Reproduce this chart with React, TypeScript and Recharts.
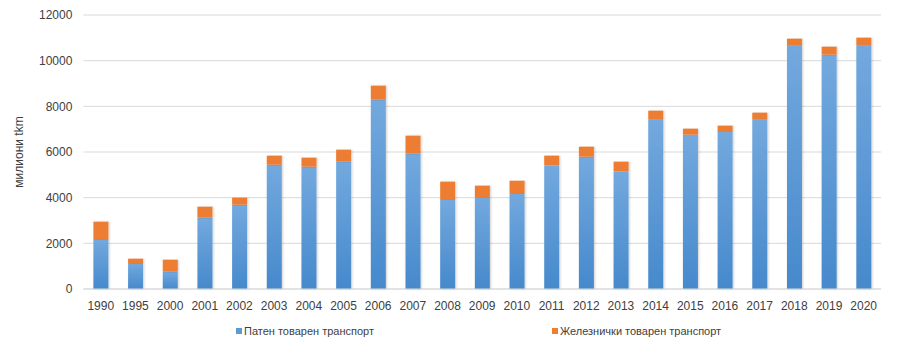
import React from 'react';
import { BarChart, Bar, XAxis, YAxis, CartesianGrid, Legend, Label } from 'recharts';

const years = ['1990','1995','2000','2001','2002','2003','2004','2005','2006','2007','2008','2009','2010','2011','2012','2013','2014','2015','2016','2017','2018','2019','2020'];
const roadValues = [2190,1139,758,3123,3692,5444,5357,5576,8291,5926,3942,4030,4205,5414,5795,5151,7430,6758,6920,7430,10670,10262,10670];
const railValues = [758,188,525,482,307,395,394,525,614,789,758,495,539,425,438,425,380,263,233,292,293,351,337];
const yTicks = [0,2000,4000,6000,8000,10000,12000];
const roadName = 'Патен товарен транспорт';
const railName = 'Железнички товарен транспорт';

const data = years.map((y, i) => ({ year: y, road: roadValues[i], rail: railValues[i] }));

const FONT = '"Liberation Sans", Arial, sans-serif';

const LegendContent = () => (
  <div style={{ position: 'relative', width: 900, height: 16, fontFamily: FONT, fontSize: 11, color: '#404040' }}>
    <div style={{ position: 'absolute', left: 236, top: 5, width: 6, height: 6, background: '#5b9bd5' }} />
    <div style={{ position: 'absolute', left: 244, top: 0, lineHeight: '16px', whiteSpace: 'nowrap' }}>{roadName}</div>
    <div style={{ position: 'absolute', left: 552, top: 5, width: 6, height: 6, background: '#ed7d31' }} />
    <div style={{ position: 'absolute', left: 560, top: 0, lineHeight: '16px', whiteSpace: 'nowrap' }}>{railName}</div>
  </div>
);

export default function App() {
  return (
    <div style={{ position: 'absolute', left: 0, top: 0, width: 900, height: 355, background: '#fff' }}>
      <BarChart width={900} height={355} data={data} margin={{ top: 15, right: 19, bottom: 20, left: 0 }} barSize={15}>
        <defs>
          <linearGradient id="blueGrad" x1="0" y1="0" x2="0" y2="1">
            <stop offset="0%" stopColor="#73a9de" />
            <stop offset="100%" stopColor="#4689cc" />
          </linearGradient>
          <filter id="shadow" x="-30%" y="-5%" width="160%" height="110%">
            <feDropShadow dx="1" dy="0" stdDeviation="1" floodColor="#000" floodOpacity="0.2" />
          </filter>
        </defs>
        <CartesianGrid vertical={false} stroke="#d9d9d9" strokeWidth={1} />
        <XAxis
          dataKey="year"
          tickLine={false}
          axisLine={{ stroke: '#d9d9d9' }}
          tickSize={0}
          tickMargin={12}
          interval={0}
          height={30}
          tick={{ fill: '#404040', fontSize: 12, fontFamily: FONT }}
        />
        <YAxis
          width={83.4}
          domain={[0, 12000]}
          ticks={yTicks}
          axisLine={false}
          tickLine={false}
          tickSize={0}
          tickMargin={11}
          tick={{ fill: '#404040', fontSize: 12, fontFamily: FONT }}
        >
          <Label
            value="милиони tkm"
            angle={-90}
            position="insideLeft"
            offset={19}
            style={{ textAnchor: 'middle', fill: '#404040', fontSize: 12, fontFamily: FONT }}
          />
        </YAxis>
        <Legend verticalAlign="bottom" content={<LegendContent />} wrapperStyle={{ left: 0, top: 323, bottom: 'auto', width: 900, height: 16 }} />
        <Bar dataKey="road" name={roadName} stackId="a" fill="url(#blueGrad)" filter="url(#shadow)" isAnimationActive={false} />
        <Bar dataKey="rail" name={railName} stackId="a" fill="#ed7d31" filter="url(#shadow)" isAnimationActive={false} />
      </BarChart>
    </div>
  );
}
